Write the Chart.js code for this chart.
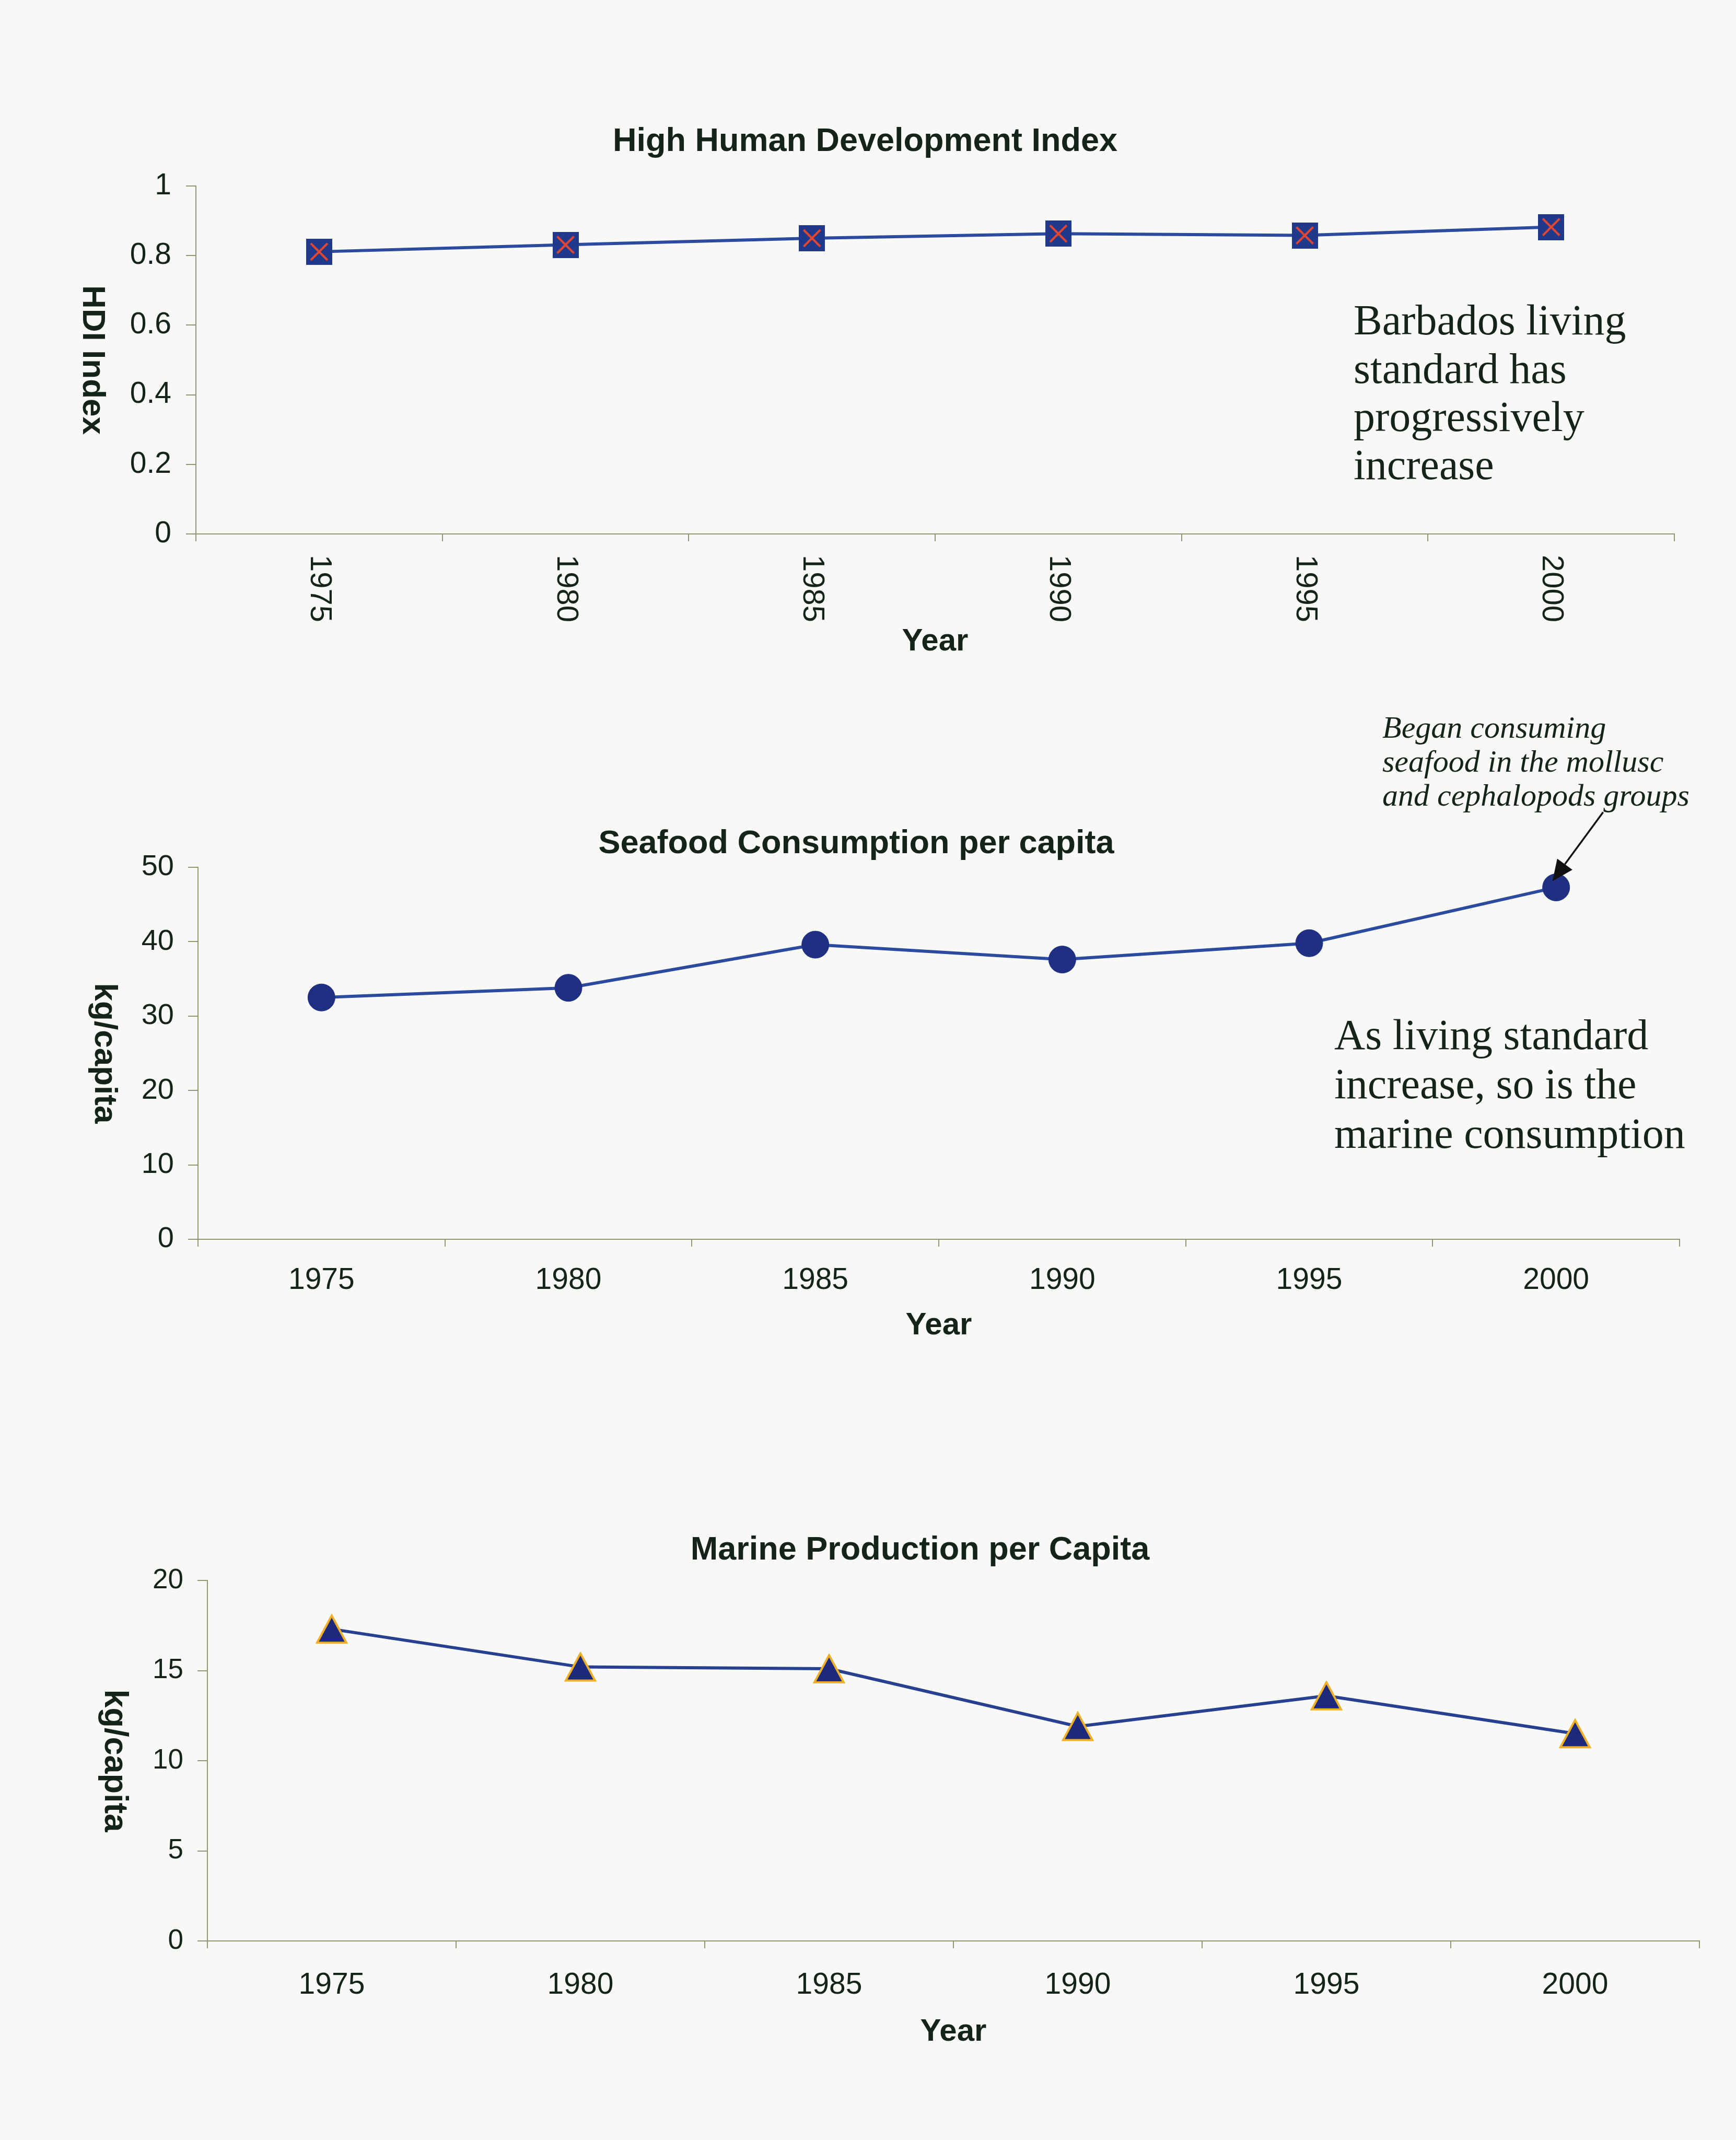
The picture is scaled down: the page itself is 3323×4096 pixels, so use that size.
<!DOCTYPE html>
<html>
<head>
<meta charset="utf-8">
<title>HDI, seafood consumption and marine production</title>
<script src="https://cdn.jsdelivr.net/npm/chart.js@4.4.1/dist/chart.umd.min.js"></script>
<style>
  html, body { margin: 0; padding: 0; background: #f8f9f7; }
  body { width: 3323px; height: 4096px; position: relative; overflow: hidden; }
  .panel { position: absolute; left: 0; width: 3323px; }
  .panel canvas { display: block; }
</style>
</head>
<body>
<div class="panel" style="top:0px;height:1264px"><canvas id="hdiChart"></canvas></div>
<div class="panel" style="top:1300px;height:1273px"><canvas id="seafoodChart"></canvas></div>
<div class="panel" style="top:2600px;height:1325px"><canvas id="marineChart"></canvas></div>
<script>
// ---- data ----
const years = ['1975', '1980', '1985', '1990', '1995', '2000'];
const hdiValues = [0.811, 0.831, 0.85, 0.863, 0.858, 0.882];
const seafoodValues = [32.5, 33.8, 39.6, 37.6, 39.8, 47.3];
const marineValues = [17.3, 15.2, 15.1, 11.9, 13.6, 11.5];
const hdiTicks = [0, 0.2, 0.4, 0.6, 0.8, 1];
const seafoodTicks = [0, 10, 20, 30, 40, 50];
const marineTicks = [0, 5, 10, 15, 20];

// ---- text ----
const hdiTitle = 'High Human Development Index';
const seafoodTitle = 'Seafood Consumption per capita';
const marineTitle = 'Marine Production per Capita';
const xTitle = 'Year';
const hdiAxisTitle = 'HDI Index';
const perCapitaAxisTitle = 'kg/capita';
const hdiNote = ['Barbados living', 'standard has', 'progressively', 'increase'];
const seafoodNote = ['As living standard', 'increase, so is the', 'marine consumption'];
const molluscNote = ['Began consuming', 'seafood in the mollusc', 'and cephalopods groups'];
const molluscYear = '2000';

// ---- colours ----
const INK = '#14241a';
const AXIS = '#8e9873';
const LINE_BLUE = '#2c4a9e';
const NAVY = '#1f2f82';

Chart.defaults.font.family = "'Liberation Sans', Arial, sans-serif";
Chart.defaults.color = INK;

// square marker with a red cross
function makeSquareCross() {
  const s = 50;
  const c = document.createElement('canvas');
  c.width = s; c.height = s;
  const g = c.getContext('2d');
  g.fillStyle = '#21398c';
  g.fillRect(0, 0, s, s);
  g.strokeStyle = '#e4472f';
  g.lineWidth = 4;
  const m = 9;
  g.beginPath();
  g.moveTo(m, m); g.lineTo(s - m, s - m);
  g.moveTo(s - m, m); g.lineTo(m, s - m);
  g.stroke();
  return c;
}

// navy triangle with a gold rim, centred on its bounding box
function makeTriangle() {
  const w = 62, h = 58;
  const c = document.createElement('canvas');
  c.width = w; c.height = h;
  const g = c.getContext('2d');
  g.beginPath();
  g.moveTo(w / 2, 3);
  g.lineTo(w - 3, h - 3);
  g.lineTo(3, h - 3);
  g.closePath();
  g.fillStyle = '#1d2a7c';
  g.fill();
  g.lineJoin = 'miter';
  g.lineWidth = 4;
  g.strokeStyle = '#eeb02a';
  g.stroke();
  return c;
}

// centred heading
function drawHeading(ctx, text, cx, cy) {
  ctx.save();
  ctx.font = "bold 63px 'Liberation Sans', Arial, sans-serif";
  ctx.fillStyle = INK;
  ctx.textAlign = 'center';
  ctx.textBaseline = 'alphabetic';
  ctx.fillText(text, cx, cy + 0.358 * 63);
  ctx.restore();
}

// y axis title reading downwards
function drawYTitle(chart, text, x, size) {
  const ctx = chart.ctx;
  const a = chart.chartArea;
  ctx.save();
  ctx.font = "bold " + size + "px 'Liberation Sans', Arial, sans-serif";
  ctx.fillStyle = INK;
  ctx.textAlign = 'center';
  ctx.textBaseline = 'middle';
  ctx.translate(x, (a.top + a.bottom) / 2);
  ctx.rotate(Math.PI / 2);
  ctx.fillText(text, 0, 0);
  ctx.restore();
}

// block of serif text
function drawNote(ctx, lines, x, baselines, font) {
  ctx.save();
  ctx.font = font;
  ctx.fillStyle = INK;
  ctx.textAlign = 'left';
  ctx.textBaseline = 'alphabetic';
  lines.forEach((t, i) => ctx.fillText(t, x, baselines[i]));
  ctx.restore();
}

function baseOptions(cfg) {
  return {
    responsive: true,
    maintainAspectRatio: false,
    animation: false,
    devicePixelRatio: 1,
    layout: { padding: { top: cfg.plotTop, right: cfg.padRight, left: 0, bottom: 0 } },
    plugins: { legend: { display: false }, tooltip: { enabled: false }, title: { display: false } },
    scales: {
      x: {
        type: 'category',
        offset: true,
        grid: { offset: true, drawOnChartArea: false, drawTicks: true, tickLength: 14, color: AXIS, lineWidth: 2 },
        border: { display: true, color: AXIS, width: 2 },
        ticks: { display: cfg.xTicksShown, font: { size: 57 }, color: INK, padding: cfg.xTickPad, maxRotation: 0, minRotation: 0, autoSkip: false },
        title: { display: true, text: xTitle, font: { size: 60, weight: 'bold' }, color: INK, padding: 0 },
        afterFit: s => { s.height = cfg.xHeight; }
      },
      y: {
        min: cfg.ticks[0],
        max: cfg.ticks[cfg.ticks.length - 1],
        afterBuildTicks: s => { s.ticks = cfg.ticks.map(v => ({ value: v })); },
        grid: { drawOnChartArea: false, drawTicks: true, tickLength: 19, color: AXIS, lineWidth: 2 },
        border: { display: true, color: AXIS, width: 2 },
        ticks: { font: { size: cfg.yFont }, color: INK, padding: cfg.yTickPad, callback: v => String(v) },
        afterFit: s => { s.width = cfg.plotLeft; }
      }
    }
  };
}

// ---- High Human Development Index ----
new Chart(document.getElementById('hdiChart'), {
  type: 'line',
  data: {
    labels: years,
    datasets: [{
      data: hdiValues,
      borderColor: LINE_BLUE,
      borderWidth: 6,
      tension: 0,
      pointStyle: makeSquareCross(),
      pointRadius: 25,
      clip: false
    }]
  },
  options: baseOptions({
    plotTop: 356, padRight: 118, plotLeft: 375, xHeight: 242,
    xTicksShown: false, xTickPad: 0, ticks: hdiTicks, yFont: 57, yTickPad: 28
  }),
  plugins: [{
    id: 'hdiText',
    afterDraw(chart) {
      const ctx = chart.ctx;
      drawHeading(ctx, hdiTitle, 1656, 266);
      drawYTitle(chart, hdiAxisTitle, 176, 62);
      // year labels turned to read downwards
      const xs = chart.scales.x;
      ctx.save();
      ctx.font = "58px 'Liberation Sans', Arial, sans-serif";
      ctx.fillStyle = INK;
      ctx.textAlign = 'left';
      ctx.textBaseline = 'middle';
      years.forEach((yr, i) => {
        ctx.save();
        ctx.translate(xs.getPixelForValue(i), xs.top + 40);
        ctx.rotate(Math.PI / 2);
        ctx.fillText(yr, 0, 0);
        ctx.restore();
      });
      ctx.restore();
      drawNote(ctx, hdiNote, 2591, [640, 732.5, 825, 917],
        "82px 'Liberation Serif', 'Times New Roman', serif");
    }
  }]
});

// ---- Seafood Consumption per capita ----
new Chart(document.getElementById('seafoodChart'), {
  type: 'line',
  data: {
    labels: years,
    datasets: [{
      data: seafoodValues,
      borderColor: LINE_BLUE,
      borderWidth: 6,
      tension: 0,
      pointStyle: 'circle',
      pointRadius: 26,
      pointBackgroundColor: NAVY,
      pointBorderColor: NAVY,
      pointBorderWidth: 1,
      clip: false
    }]
  },
  options: baseOptions({
    plotTop: 360, padRight: 108, plotLeft: 379, xHeight: 201,
    xTicksShown: true, xTickPad: 31, ticks: seafoodTicks, yFont: 56, yTickPad: 27
  }),
  plugins: [{
    id: 'seafoodText',
    afterDraw(chart) {
      const ctx = chart.ctx;
      drawHeading(ctx, seafoodTitle, 1639, 310);
      drawYTitle(chart, perCapitaAxisTitle, 199, 62);
      drawNote(ctx, molluscNote, 2646, [112, 177, 242],
        "italic 60px 'Liberation Serif', 'Times New Roman', serif");
      drawNote(ctx, seafoodNote, 2554, [708, 802, 897],
        "82px 'Liberation Serif', 'Times New Roman', serif");
      // arrow pointing at the 2000 value
      const pt = chart.getDatasetMeta(0).data[years.indexOf(molluscYear)];
      const tx = pt.x - 7, ty = pt.y - 12;
      const sx = pt.x + 90, sy = pt.y - 144;
      const ang = Math.atan2(ty - sy, tx - sx);
      const headLen = 40, headHalf = 18;
      const bx = tx - Math.cos(ang) * headLen, by = ty - Math.sin(ang) * headLen;
      ctx.save();
      ctx.strokeStyle = '#111';
      ctx.fillStyle = '#111';
      ctx.lineWidth = 3.5;
      ctx.beginPath();
      ctx.moveTo(sx, sy);
      ctx.lineTo(bx, by);
      ctx.stroke();
      ctx.beginPath();
      ctx.moveTo(tx, ty);
      ctx.lineTo(bx + Math.sin(ang) * headHalf, by - Math.cos(ang) * headHalf);
      ctx.lineTo(bx - Math.sin(ang) * headHalf, by + Math.cos(ang) * headHalf);
      ctx.closePath();
      ctx.fill();
      ctx.restore();
    }
  }]
});

// ---- Marine Production per Capita ----
new Chart(document.getElementById('marineChart'), {
  type: 'line',
  data: {
    labels: years,
    datasets: [{
      data: marineValues,
      borderColor: '#27408f',
      borderWidth: 6,
      tension: 0,
      pointStyle: makeTriangle(),
      pointRadius: 30,
      clip: false
    }]
  },
  options: baseOptions({
    plotTop: 425, padRight: 70, plotLeft: 397, xHeight: 210,
    xTicksShown: true, xTickPad: 37, ticks: marineTicks, yFont: 53, yTickPad: 27
  }),
  plugins: [{
    id: 'marineText',
    afterDraw(chart) {
      drawHeading(chart.ctx, marineTitle, 1761, 362);
      drawYTitle(chart, perCapitaAxisTitle, 218, 63);
    }
  }]
});
</script>
</body>
</html>
